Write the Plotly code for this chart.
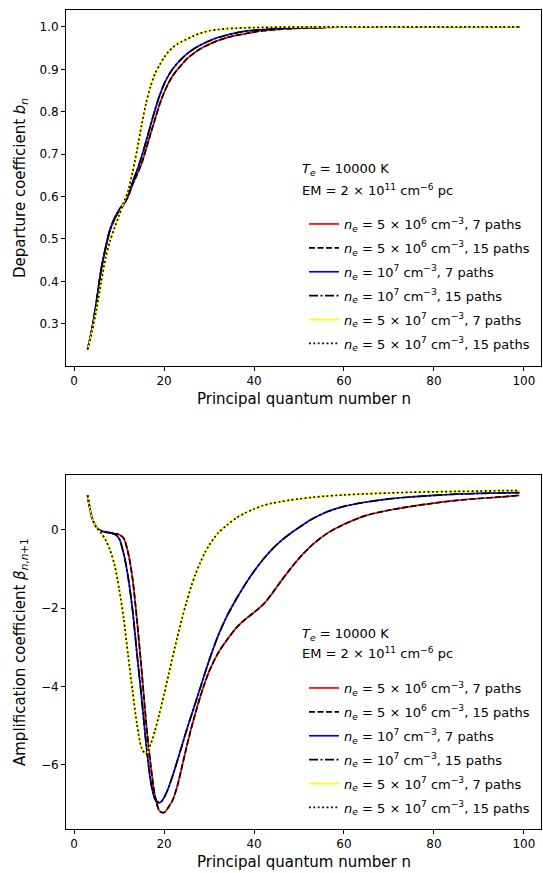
import plotly.graph_objects as go

# Principal quantum number grid
n = list(range(3, 31)) + [32, 34, 36, 38, 40, 42, 44, 46, 48, 50,
                          53, 56, 60, 65, 70, 75, 80, 85, 90, 95, 99]

# Departure coefficient b_n
bn_5e6_7 = [0.240, 0.285, 0.350, 0.425, 0.478, 0.521, 0.547, 0.566, 0.580, 0.600,
            0.628, 0.652, 0.678, 0.712, 0.748, 0.783, 0.817, 0.845, 0.868, 0.886,
            0.900, 0.912, 0.924, 0.933, 0.941, 0.948, 0.954, 0.959,
            0.968, 0.975, 0.980, 0.984, 0.988, 0.991, 0.993, 0.995, 0.996, 0.997,
            0.998, 0.999, 0.9995, 0.9998, 1.0, 1.0, 1.0, 1.0, 1.0, 1.0, 1.0]
bn_1e7_7 = [0.240, 0.290, 0.355, 0.428, 0.480, 0.523, 0.549, 0.569, 0.584, 0.606,
            0.634, 0.662, 0.694, 0.730, 0.768, 0.805, 0.838, 0.865, 0.886, 0.902,
            0.915, 0.926, 0.936, 0.944, 0.951, 0.957, 0.962, 0.967,
            0.975, 0.981, 0.986, 0.990, 0.992, 0.994, 0.996, 0.997, 0.998, 0.9985,
            0.999, 0.9993, 0.9996, 0.9998, 1.0, 1.0, 1.0, 1.0, 1.0, 1.0, 1.0]
bn_5e7_7 = [0.240, 0.283, 0.335, 0.397, 0.455, 0.495, 0.527, 0.555, 0.585, 0.613,
            0.658, 0.710, 0.768, 0.820, 0.860, 0.890, 0.910, 0.928, 0.942, 0.952,
            0.960, 0.966, 0.971, 0.976, 0.981, 0.985, 0.988, 0.991,
            0.994, 0.996, 0.997, 0.998, 0.9985, 0.999, 0.9993, 0.9995, 0.9997, 0.9998,
            1.0, 1.0, 1.0, 1.0, 1.0, 1.0, 1.0, 1.0, 1.0, 1.0, 1.0]
# 15-path results coincide with the 7-path results in the picture
bn_5e6_15 = list(bn_5e6_7)
bn_1e7_15 = list(bn_1e7_7)
bn_5e7_15 = list(bn_5e7_7)

# Amplification coefficient beta_{n,n+1}
beta_5e6_7 = [0.88, 0.30, 0.06, -0.03, -0.06, -0.08, -0.10, -0.12, -0.21, -0.58,
              -1.25, -2.33, -3.57, -4.90, -5.98, -6.80, -7.18, -7.22, -7.08, -6.88,
              -6.52, -6.04, -5.55, -5.09, -4.67, -4.28, -3.93, -3.62,
              -3.15, -2.81, -2.51, -2.29, -2.11, -1.91, -1.63, -1.31, -1.01, -0.73,
              -0.38, -0.11, 0.14, 0.37, 0.50, 0.60, 0.68, 0.75, 0.80, 0.84, 0.88]
beta_1e7_7 = [0.88, 0.30, 0.06, -0.03, -0.05, -0.07, -0.11, -0.22, -0.60, -1.20,
              -2.05, -3.19, -4.28, -5.45, -6.40, -6.88, -6.97, -6.84, -6.58, -6.25,
              -5.88, -5.50, -5.12, -4.76, -4.41, -4.05, -3.69, -3.34,
              -2.71, -2.20, -1.78, -1.40, -1.06, -0.76, -0.50, -0.28, -0.10, 0.06,
              0.28, 0.45, 0.60, 0.71, 0.79, 0.84, 0.88, 0.91, 0.93, 0.94, 0.95]
beta_5e7_7 = [0.88, 0.30, 0.05, -0.08, -0.26, -0.52, -0.90, -1.50, -2.25, -3.20,
              -4.12, -4.98, -5.57, -5.73, -5.48, -5.12, -4.68, -4.20, -3.70, -3.20,
              -2.72, -2.26, -1.84, -1.46, -1.13, -0.85, -0.60, -0.40,
              -0.08, 0.12, 0.30, 0.43, 0.53, 0.62, 0.68, 0.72, 0.76, 0.79,
              0.83, 0.86, 0.89, 0.92, 0.94, 0.96, 0.97, 0.98, 0.99, 1.00, 1.00]
beta_5e6_15 = list(beta_5e6_7)
beta_1e7_15 = list(beta_1e7_7)
beta_5e7_15 = list(beta_5e7_7)

labels = [
    "<i>n</i><sub><i>e</i></sub> = 5 × 10<sup>6</sup> cm<sup>−3</sup>, 7 paths",
    "<i>n</i><sub><i>e</i></sub> = 5 × 10<sup>6</sup> cm<sup>−3</sup>, 15 paths",
    "<i>n</i><sub><i>e</i></sub> = 10<sup>7</sup> cm<sup>−3</sup>, 7 paths",
    "<i>n</i><sub><i>e</i></sub> = 10<sup>7</sup> cm<sup>−3</sup>, 15 paths",
    "<i>n</i><sub><i>e</i></sub> = 5 × 10<sup>7</sup> cm<sup>−3</sup>, 7 paths",
    "<i>n</i><sub><i>e</i></sub> = 5 × 10<sup>7</sup> cm<sup>−3</sup>, 15 paths",
]
styles = [("red", "solid"), ("black", "6px,2.5px"), ("blue", "solid"),
          ("black", "9px,2.5px,2px,2.5px"), ("yellow", "solid"), ("black", "1.8px,2.6px")]

top_series = [bn_5e6_7, bn_5e6_15, bn_1e7_7, bn_1e7_15, bn_5e7_7, bn_5e7_15]
bot_series = [beta_5e6_7, beta_5e6_15, beta_1e7_7, beta_1e7_15, beta_5e7_7, beta_5e7_15]

FONT = "DejaVu Sans"
LW = 1.7
fig = go.Figure()
for i, (ys, lab, (col, dash)) in enumerate(zip(top_series, labels, styles)):
    fig.add_trace(go.Scatter(x=n, y=ys, mode="lines", name=lab,
                             line=dict(color=col, dash=dash, width=LW, shape="spline", smoothing=0.8),
                             xaxis="x", yaxis="y", legend="legend", legendgroup="t%d" % i))
for i, (ys, lab, (col, dash)) in enumerate(zip(bot_series, labels, styles)):
    fig.add_trace(go.Scatter(x=n, y=ys, mode="lines", name=lab,
                             line=dict(color=col, dash=dash, width=LW, shape="spline", smoothing=0.8),
                             xaxis="x2", yaxis="y2", legend="legend2", legendgroup="b%d" % i))

axis_common = dict(showline=True, mirror=True, linecolor="black", linewidth=1,
                   ticks="outside", ticklen=4, tickcolor="black", showgrid=False,
                   zeroline=False, tickfont=dict(family=FONT, size=12, color="black"))

H_TOP = 829
PH = 819.0
PW = 475.0
def py(ypx):
    return (H_TOP - ypx) / PH
def px(xpx):
    return (xpx - 66) / PW

fig.update_layout(
    width=543, height=873,
    margin=dict(l=66, r=2, t=10, b=44),
    paper_bgcolor="white", plot_bgcolor="white",
    font=dict(family=FONT, size=12, color="black"),
    xaxis=dict(domain=[0, 1], anchor="y", range=[-1.8, 103.8], tick0=0, dtick=20, **axis_common),
    yaxis=dict(domain=[py(366), 1], anchor="x", range=[0.2005, 1.040], tick0=0, dtick=0.1,
               tickformat=".1f", **axis_common),
    xaxis2=dict(domain=[0, 1], anchor="y2", range=[-1.8, 103.8], tick0=0, dtick=20, **axis_common),
    yaxis2=dict(domain=[0, py(475)], anchor="x2", range=[-7.64, 1.40], tick0=0, dtick=2, **axis_common),
    legend=dict(x=px(304), y=py(209), xanchor="left", yanchor="top", bgcolor="rgba(0,0,0,0)",
                font=dict(family=FONT, size=13, color="black"), tracegroupgap=4, itemwidth=30),
    legend2=dict(x=px(304), y=py(673), xanchor="left", yanchor="top", bgcolor="rgba(0,0,0,0)",
                 font=dict(family=FONT, size=13, color="black"), tracegroupgap=4, itemwidth=30),
    showlegend=True,
)

ann = []
for (yte, yem) in [(170, 190), (634, 653)]:
    ann.append(dict(text="<i>T</i><sub><i>e</i></sub> = 10000 K", x=px(300), y=py(yte),
                    xref="paper", yref="paper", xanchor="left", yanchor="middle", showarrow=False,
                    font=dict(family=FONT, size=13, color="black")))
    ann.append(dict(text="EM = 2 × 10<sup>11</sup> cm<sup>−6</sup> pc", x=px(300), y=py(yem),
                    xref="paper", yref="paper", xanchor="left", yanchor="middle", showarrow=False,
                    font=dict(family=FONT, size=13, color="black")))
for yt in [399, 862]:
    ann.append(dict(text="Principal quantum number n", x=0.5, y=py(yt), xref="paper", yref="paper",
                    xanchor="center", yanchor="middle", showarrow=False,
                    font=dict(family=FONT, size=15, color="black")))
ann.append(dict(text="Departure coefficient <i>b</i><sub><i>n</i></sub>", x=px(20), y=py(188),
                xref="paper", yref="paper", xanchor="center", yanchor="middle", textangle=-90,
                showarrow=False, font=dict(family=FONT, size=15, color="black")))
ann.append(dict(text="Amplification coefficient <i>β</i><sub><i>n</i>,<i>n</i>+1</sub>", x=px(20), y=py(652),
                xref="paper", yref="paper", xanchor="center", yanchor="middle", textangle=-90,
                showarrow=False, font=dict(family=FONT, size=15, color="black")))
fig.update_layout(annotations=ann)

fig.write_html("out.html")
